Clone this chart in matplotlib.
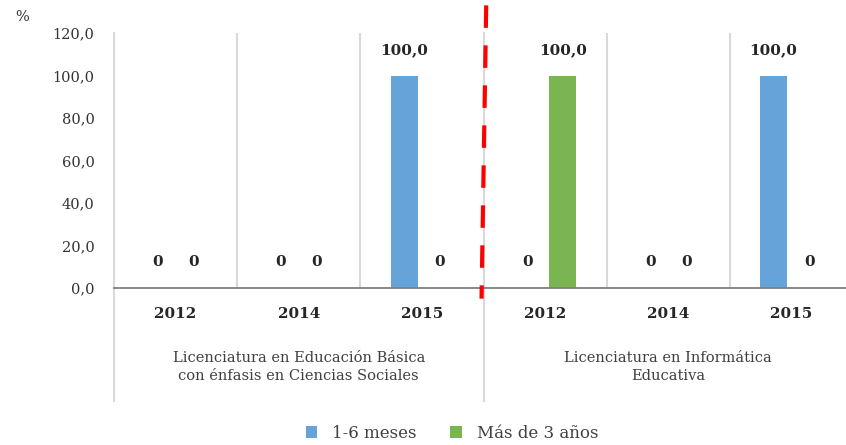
import numpy as np
import matplotlib
matplotlib.use('Agg')
import matplotlib.pyplot as plt

plt.rcParams.update({
    'font.family': 'DejaVu Serif',
})

years = ['2012', '2014', '2015', '2012', '2014', '2015']
groups = ['Licenciatura en Educación Básica\ncon énfasis en Ciencias Sociales',
          'Licenciatura en Informática\nEducativa']
meses = [0, 0, 100.0, 0, 0, 100.0]
anos = [0, 0, 0, 100.0, 0, 0]
series_names = ['1-6 meses', 'Más de 3 años']
colors = ['#66a3d9', '#7ab552']

W, H = 846, 445
fig = plt.figure(figsize=(W / 100, H / 100), dpi=100)
# axes from px 114 to 853 horizontally, 33 to 288 vertically
ax = fig.add_axes([114 / W, 1 - 288 / H, (853 - 114) / W, (288 - 33) / H])

x = np.arange(len(years))
bw = 0.22
off = 0.145
for vals, sign, col, name in zip([meses, anos], [-1, 1], colors, series_names):
    ax.bar(x + sign * off, vals, width=bw, color=col, label=name, zorder=3)
    for xi, v in zip(x, vals):
        txt = '0' if v == 0 else f'{v:.1f}'.replace('.', ',')
        ax.text(xi + sign * off, v + 12, txt, ha='center', va='center',
                fontsize=11, fontweight='bold', color='#262626')

ax.set_xlim(-0.5, 5.5)
ax.set_ylim(0, 120)
ax.set_yticks(np.arange(0, 121, 20))
ax.set_yticklabels([f'{v:.1f}'.replace('.', ',') for v in np.arange(0, 121, 20)],
                   fontsize=10.5, color='#333333')
ax.tick_params(axis='y', length=0, pad=14)
ax.set_xticks([])
for s in ['top', 'right', 'left']:
    ax.spines[s].set_visible(False)
ax.spines['bottom'].set_color('#7f7f7f')
ax.spines['bottom'].set_linewidth(1.3)
ax.spines['bottom'].set_zorder(4)

# category separators
for b in [0.5, 1.5, 3.5, 4.5]:
    ax.plot([b, b], [0, 120], color='#d9d9d9', lw=1.5, zorder=1)
for b in [-0.5, 2.5]:
    ax.plot([b, b], [-53, 120], color='#d9d9d9', lw=1.5, zorder=1, clip_on=False)

# year labels and group labels
for xi, y in zip(x, years):
    ax.text(xi, -12, y, ha='center', va='center', fontsize=11,
            fontweight='bold', color='#262626')
for gi, g in enumerate(groups):
    ax.text(gi * 3 + 1, -37, g, ha='center', va='center', fontsize=10.5,
            color='#404040', linespacing=1.35)

# red dashed separator
ln, = ax.plot([2.522, 2.484], [133, -5], color='red', lw=3, clip_on=False, zorder=5)
ln.set_dashes((5.4, 4.2))

fig.text(15 / W, 1 - 17 / H, '%', ha='left', va='center', fontsize=10.5, color='#333333')

fig.legend(loc='center', bbox_to_anchor=(452 / W, 1 - 433 / H), ncol=2,
           frameon=False, fontsize=12, handlelength=0.7, handleheight=0.7,
           handletextpad=0.9, columnspacing=2.0, labelcolor='#404040')

fig.savefig('out.png', dpi=100)
